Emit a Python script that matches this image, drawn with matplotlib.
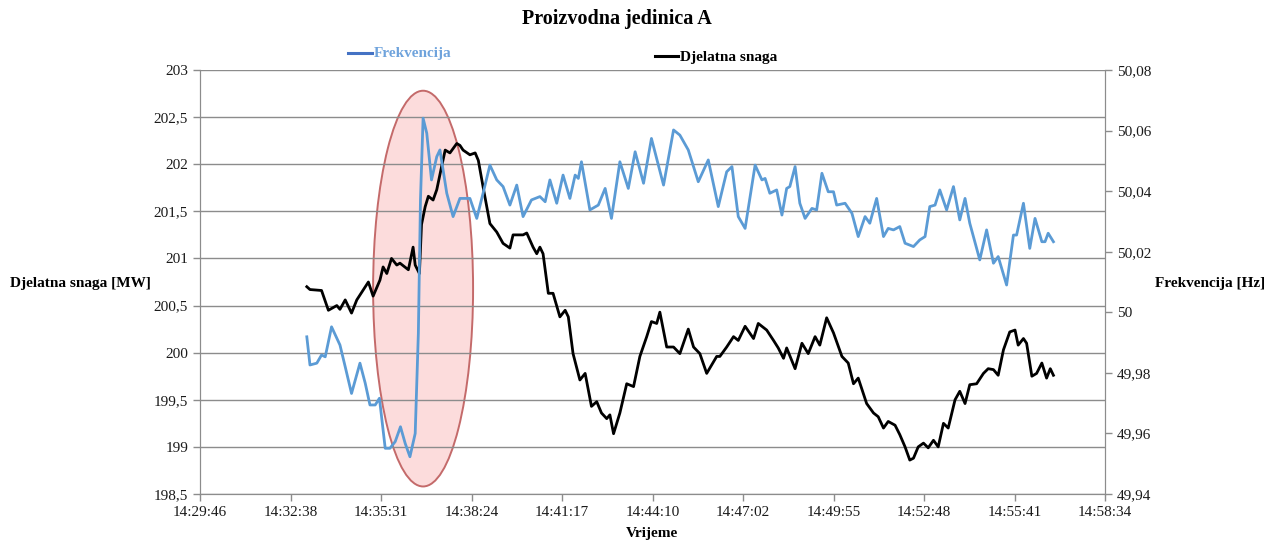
import matplotlib
matplotlib.use("Agg")
import matplotlib.pyplot as plt
from matplotlib.ticker import FuncFormatter, MultipleLocator
from matplotlib.patches import Ellipse
from matplotlib.lines import Line2D

plt.rcParams['font.family'] = ['Liberation Serif', 'DejaVu Serif']

# ---- data -------------------------------------------------------------
# time: seconds elapsed since 14:29:46 (axis start)
power_t = [203, 209, 231, 244, 260, 266, 276, 288, 298, 320, 329, 342, 348, 355, 364, 374,
           380, 396, 405, 409, 417, 421, 428, 434, 443, 450, 459, 466, 475, 488, 494, 500,
           513, 523, 529, 538, 551, 564, 576, 589, 595, 614, 621, 633, 640, 646, 652, 662,
           671, 684, 694, 700, 709, 722, 732, 744, 754, 763, 773, 779, 786, 798, 811, 824,
           836, 849, 858, 868, 874, 887, 900, 912, 928, 938, 950, 963, 982, 988, 1001, 1014,
           1023, 1036, 1052, 1061, 1077, 1090, 1099, 1109, 1115, 1131, 1144, 1156, 1169, 1178,
           1191, 1204, 1220, 1232, 1242, 1251, 1267, 1280, 1289, 1299, 1308, 1321, 1330, 1340,
           1349, 1356, 1365, 1375, 1384, 1394, 1403, 1413, 1422, 1435, 1444, 1454, 1463, 1476,
           1489, 1498, 1508, 1517, 1527, 1539, 1549, 1555, 1565, 1571, 1581, 1590, 1600, 1609,
           1616, 1622]
power_mw = [200.70, 200.67, 200.66, 200.45, 200.50, 200.46, 200.56, 200.42, 200.56, 200.75,
            200.60, 200.77, 200.91, 200.84, 201.00, 200.93, 200.95, 200.88, 201.12, 200.93,
            200.84, 201.36, 201.55, 201.66, 201.62, 201.73, 201.97, 202.15, 202.12, 202.22,
            202.20, 202.15, 202.10, 202.12, 202.04, 201.76, 201.37, 201.28, 201.16, 201.11,
            201.25, 201.25, 201.27, 201.12, 201.05, 201.12, 201.05, 200.63, 200.63, 200.38,
            200.45, 200.38, 199.99, 199.71, 199.78, 199.43, 199.48, 199.36, 199.30, 199.34,
            199.14, 199.36, 199.67, 199.64, 199.96, 200.17, 200.33, 200.31, 200.43, 200.06,
            200.06, 199.99, 200.25, 200.06, 199.99, 199.78, 199.96, 199.96, 200.06, 200.17,
            200.13, 200.28, 200.15, 200.31, 200.24, 200.13, 200.05, 199.94, 200.05, 199.83,
            200.10, 199.99, 200.17, 200.08, 200.37, 200.21, 199.96, 199.89, 199.67, 199.73,
            199.46, 199.36, 199.32, 199.20, 199.27, 199.23, 199.13, 199.00, 198.86, 198.88,
            199.00, 199.04, 198.99, 199.07, 199.00, 199.25, 199.20, 199.50, 199.59, 199.46,
            199.66, 199.67, 199.78, 199.83, 199.82, 199.76, 200.03, 200.22, 200.24, 200.08,
            200.15, 200.10, 199.75, 199.78, 199.89, 199.73, 199.83, 199.76]

freq_t = [203, 209, 222, 231, 238, 250, 266, 276, 288, 304, 314, 323, 333, 341, 352, 361,
          371, 381, 390, 399, 409, 415, 419, 424, 431, 440, 450, 456, 469, 481, 494, 513,
          526, 538, 551, 564, 576, 589, 602, 614, 630, 646, 656, 665, 678, 690, 703, 713,
          719, 725, 741, 757, 770, 782, 798, 814, 827, 843, 858, 881, 900, 912, 928, 947,
          966, 985, 1001, 1011, 1023, 1036, 1055, 1068, 1074, 1083, 1096, 1106, 1115, 1121,
          1131, 1140, 1150, 1163, 1172, 1182, 1194, 1204, 1210, 1226, 1239, 1251, 1264, 1273,
          1286, 1299, 1308, 1318, 1330, 1340, 1356, 1368, 1378, 1387, 1397, 1406, 1419, 1432,
          1444, 1454, 1463, 1482, 1495, 1508, 1517, 1533, 1546, 1552, 1565, 1577, 1587, 1600,
          1606, 1612, 1622]
freq_hz = [49.9919, 49.9826, 49.9832, 49.9859, 49.9853, 49.9952, 49.9892, 49.9820, 49.9732,
           49.9832, 49.9766, 49.9694, 49.9694, 49.9716, 49.9551, 49.9551, 49.9573, 49.9622,
           49.9567, 49.9523, 49.9600, 49.9931, 50.0371, 50.0641, 50.0591, 50.0437, 50.0514,
           50.0536, 50.0393, 50.0316, 50.0376, 50.0376, 50.0310, 50.0393, 50.0486, 50.0437,
           50.0415, 50.0354, 50.0420, 50.0316, 50.0371, 50.0382, 50.0365, 50.0437, 50.0360,
           50.0453, 50.0376, 50.0453, 50.0442, 50.0497, 50.0338, 50.0354, 50.0409, 50.0310,
           50.0497, 50.0409, 50.0530, 50.0426, 50.0574, 50.0420, 50.0602, 50.0585, 50.0536,
           50.0431, 50.0503, 50.0349, 50.0464, 50.0481, 50.0316, 50.0277, 50.0486, 50.0437,
           50.0442, 50.0393, 50.0404, 50.0321, 50.0409, 50.0415, 50.0481, 50.0360, 50.0310,
           50.0343, 50.0338, 50.0459, 50.0398, 50.0398, 50.0354, 50.0360, 50.0327, 50.0250,
           50.0316, 50.0294, 50.0376, 50.0250, 50.0277, 50.0272, 50.0283, 50.0228, 50.0217,
           50.0239, 50.0250, 50.0349, 50.0354, 50.0404, 50.0338, 50.0415, 50.0305, 50.0376,
           50.0294, 50.0173, 50.0272, 50.0162, 50.0184, 50.0090, 50.0255, 50.0255, 50.0360,
           50.0211, 50.0310, 50.0233, 50.0233, 50.0261, 50.0233]

x_tick_labels = ["14:29:46", "14:32:38", "14:35:31", "14:38:24", "14:41:17", "14:44:10",
                 "14:47:02", "14:49:55", "14:52:48", "14:55:41", "14:58:34"]
x_tick_pos = [0, 172, 344, 516, 688, 860, 1032, 1204, 1376, 1548, 1720]

# ---- figure -----------------------------------------------------------
fig = plt.figure(figsize=(12.76, 5.41), dpi=100)
ax = fig.add_axes([200/1276, 1-494/541, 905/1276, 424/541])
ax2 = ax.twinx()

grid_c = '#8c8c8c'
ax.set_xlim(0, 1720)
ax.set_ylim(198.5, 203)
ax2.set_ylim(49.94, 50.08)
ax.yaxis.set_major_locator(MultipleLocator(0.5))
ax2.yaxis.set_major_locator(MultipleLocator(0.02))
ax.set_xticks(x_tick_pos)
ax.set_xticklabels(x_tick_labels)

def comma_fmt(v, pos):
    s = ('%.2f' % v).rstrip('0').rstrip('.')
    return s.replace('.', ',')

ax.yaxis.set_major_formatter(FuncFormatter(comma_fmt))
ax2.yaxis.set_major_formatter(FuncFormatter(comma_fmt))

ax.set_axisbelow(True)
ax.grid(axis='y', color=grid_c, linewidth=1.0)
for a in (ax, ax2):
    for s in a.spines.values():
        s.set_color(grid_c)
    a.spines['top'].set_visible(False)
    a.tick_params(colors=grid_c, labelcolor='#1a1a1a', labelsize=11, length=5, width=1)

# highlight ellipse (behind gridlines and lines)
ell = Ellipse((424, 200.68), 190, 4.20, facecolor='#fcdcdc', edgecolor='#c46a6a',
              linewidth=1.4, zorder=0.2)
ax.add_patch(ell)

ax.plot(power_t, power_mw, color='black', linewidth=2.0, zorder=3)
ax2.plot(freq_t, freq_hz, color='#5b9bd5', linewidth=2.0, zorder=3)

# titles and labels
fig.text(617/1276, 1-19/541, 'Proizvodna jedinica A', ha='center', va='center',
         fontsize=14.5, fontweight='bold')
fig.text(10/1276, 1-283/541, 'Djelatna snaga [MW]', ha='left', va='center',
         fontsize=11, fontweight='bold')
fig.text(1155/1276, 1-283/541, 'Frekvencija [Hz]', ha='left', va='center',
         fontsize=11, fontweight='bold')
fig.text(652/1276, 1-533/541, 'Vrijeme', ha='center', va='center',
         fontsize=11, fontweight='bold')

# legend entries
fig.add_artist(Line2D([348/1276, 372/1276], [1-53/541, 1-53/541], color='#4472c4',
                      linewidth=2.2))
fig.text(374/1276, 1-53/541, 'Frekvencija', ha='left', va='center', fontsize=11,
         fontweight='bold', color='#6fa3dc')
fig.add_artist(Line2D([655/1276, 678/1276], [1-56/541, 1-56/541], color='black',
                      linewidth=2.2))
fig.text(680/1276, 1-57/541, 'Djelatna snaga', ha='left', va='center', fontsize=11,
         fontweight='bold', color='black')

fig.savefig('out.png', dpi=100)
